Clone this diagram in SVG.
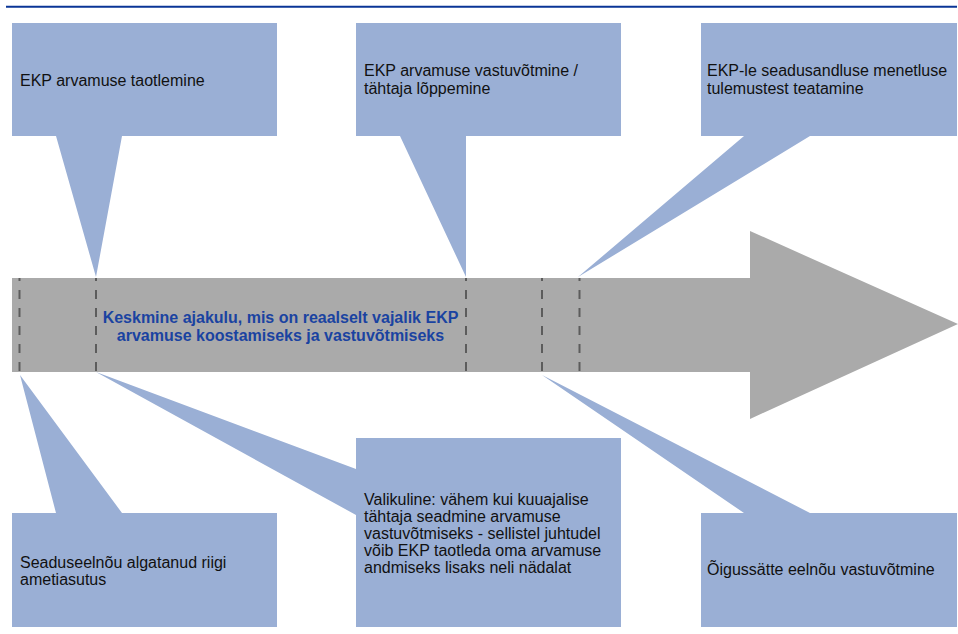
<svg xmlns="http://www.w3.org/2000/svg" width="958" height="634" viewBox="0 0 958 634">
<style>
.box{fill:#9aafd5;}
.t{font-family:"Liberation Sans",Arial,sans-serif;font-size:16px;fill:#111111;}
.c{font-family:"Liberation Sans",Arial,sans-serif;font-size:16px;font-weight:bold;fill:#1a43a1;}
.dash{stroke:#5c5c5c;stroke-width:2;stroke-dasharray:9 9;stroke-dashoffset:6;fill:none;}
</style>
<rect width="958" height="634" fill="#ffffff"/>
<line x1="6" y1="6.7" x2="957" y2="6.7" stroke="#0a3596" stroke-width="2"/>
<g id="arrow">
<polygon points="12,278 750,278 750,231 958,324 750,419 750,372 12,372" fill="#aaaaaa"/>
<text class="c" text-anchor="middle"><tspan x="280.5" y="323">Keskmine ajakulu, mis on reaalselt vajalik EKP</tspan><tspan x="280.5" y="340.5">arvamuse koostamiseks ja vastuvõtmiseks</tspan></text>
</g>
<g id="markers">
<line class="dash" x1="19.5" y1="278" x2="19.5" y2="372"/>
<line class="dash" x1="96" y1="278" x2="96" y2="372"/>
<line class="dash" x1="466" y1="278" x2="466" y2="372"/>
<line class="dash" x1="542" y1="278" x2="542" y2="372"/>
<line class="dash" x1="579.5" y1="278" x2="579.5" y2="372"/>
</g>
<g id="callout-taotlemine">
<path class="box" d="M12,23 H277 V136 H122 L96,277 L56,136 H12 Z"/>
<text class="t" x="20" y="86">EKP arvamuse taotlemine</text>
</g>
<g id="callout-vastuvotmine">
<path class="box" d="M356,23 H621 V136 H466 V277 L400,136 H356 Z"/>
<text class="t"><tspan x="364" y="76">EKP arvamuse vastuvõtmine /</tspan><tspan x="364" y="94">tähtaja lõppemine</tspan></text>
</g>
<g id="callout-teatamine">
<path class="box" d="M701,23 H957 V136 H810 L578,277 L744,136 H701 Z"/>
<text class="t"><tspan x="707" y="76">EKP-le seadusandluse menetluse</tspan><tspan x="707" y="94">tulemustest teatamine</tspan></text>
</g>
<g id="callout-ametiasutus">
<path class="box" d="M12,513 H56 L20,375 L122,513 H277 V627 H12 Z"/>
<text class="t"><tspan x="20" y="568">Seaduseelnõu algatanud riigi</tspan><tspan x="20" y="585">ametiasutus</tspan></text>
</g>
<g id="callout-valikuline">
<path class="box" d="M356,438 H621 V627 H356 V515 L96,372 L356,469 Z"/>
<text class="t"><tspan x="364" y="505">Valikuline: vähem kui kuuajalise</tspan><tspan x="364" y="522">tähtaja seadmine arvamuse</tspan><tspan x="364" y="539">vastuvõtmiseks - sellistel juhtudel</tspan><tspan x="364" y="556">võib EKP taotleda oma arvamuse</tspan><tspan x="364" y="573">andmiseks lisaks neli nädalat</tspan></text>
</g>
<g id="callout-oigusakt">
<path class="box" d="M701,513 H744 L542,375 L810,513 H957 V627 H701 Z"/>
<text class="t" x="707" y="575">Õigussätte eelnõu vastuvõtmine</text>
</g>
</svg>
